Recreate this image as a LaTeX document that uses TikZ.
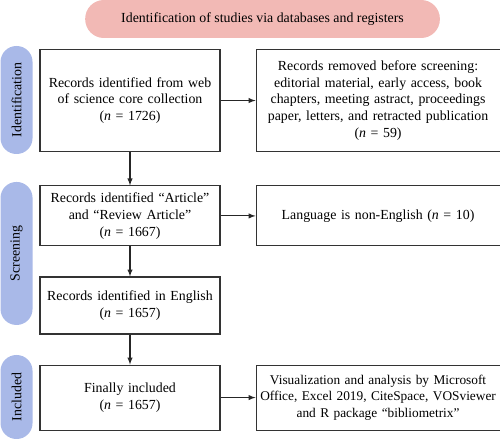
\documentclass[tikz,border=0pt]{standalone}
\usepackage{fontspec}
\setmainfont{Liberation Serif}
\usetikzlibrary{arrows}
\usetikzlibrary{positioning}
\definecolor{bannerpink}{RGB}{242,185,181}
\definecolor{stageblue}{RGB}{169,185,232}
\tikzstyle{record} = [rectangle, draw=black!80, line width=0.8pt, text centered, inner xsep=0pt, inner ysep=0pt, font=\fontsize{10.4}{12.5}\selectfont]
\tikzstyle{stage} = [rectangle, rounded corners=11.9pt, fill=stageblue, minimum height=24pt, inner sep=0pt, rotate=90, font=\fontsize{10.4}{12.5}\selectfont]
\tikzstyle{banner} = [rectangle, rounded corners=14pt, fill=bannerpink, minimum width=266pt, minimum height=28.5pt, font=\fontsize{10.4}{12.5}\selectfont]
\tikzstyle{flow} = [-latex, line width=0.8pt, draw=black!85]

\begin{document}
\begin{tikzpicture}[node distance=26.25pt]
\useasboundingbox (0,0) rectangle (375pt,-330.75pt);

\node (title) [banner] at (196.9pt,-14.25pt) {Identification of studies via databases and registers};

% left column
\node (web) [record, text width=135pt, minimum height=77pt] at (97.5pt,-75.4pt) {Records identified from web\\of science core collection\\(\textit{n} = 1726)};
\node (article) [record, text width=135pt, minimum height=45pt, below=24.75pt of web] {Records identified “Article”\\and “Review Article”\\(\textit{n} = 1667)};
\node (english) [record, text width=135pt, minimum height=42.75pt, below=22.5pt of article] {Records identified in English\\(\textit{n} = 1657)};
\node (final) [record, text width=135pt, minimum height=48.75pt, below=22.5pt of english] {Finally included\\(\textit{n} = 1657)};

% right column
\node (removed) [record, text width=183pt, minimum height=77pt, right=of web] {Records removed before screening:\\editorial material, early access, book\\chapters, meeting astract, proceedings\\paper, letters, and retracted publication\\(\textit{n} = 59)};
\node (language) [record, text width=183pt, minimum height=45pt, right=of article] {Language is non-English (\textit{n} = 10)};
\node (tools) [record, text width=183pt, minimum height=48.75pt, right=of final, font=\fontsize{10}{12.5}\selectfont] {Visualization and analysis by Microsoft\\Office, Excel 2019, CiteSpace, VOSviewer\\and R package “bibliometrix”};

% stages
\node (identification) [stage, minimum width=81pt] at (12.4pt,-75pt) {Identification};
\node (screening) [stage, minimum width=107.25pt] at (12.4pt,-190.1pt) {Screening};
\node (included) [stage, minimum width=63pt] at (12.4pt,-297.75pt) {Included};

\draw [flow] (web) -- (removed);
\draw [flow] (article) -- (language);
\draw [flow] (final) -- (tools);
\draw [flow] (web) -- (article);
\draw [flow] (article) -- (english);
\draw [flow] (english) -- (final);
\end{tikzpicture}
\end{document}
